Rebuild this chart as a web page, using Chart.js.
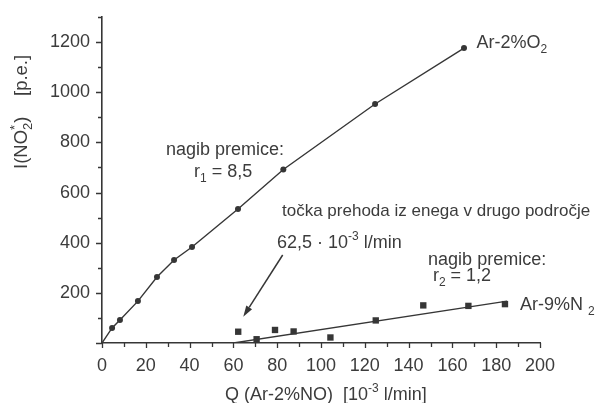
<!DOCTYPE html>
<html><head><meta charset="utf-8">
<script src="https://cdn.jsdelivr.net/npm/chart.js@4.4.1/dist/chart.umd.min.js"></script>
<style>html,body{margin:0;padding:0;background:#fff;}#wrap{width:596px;height:403px;}</style>
</head><body><div id="wrap"><canvas id="c" width="596" height="403"></canvas></div>
<script>
// ---- data ----
const o2Q = [0, 4.6, 8.2, 16.4, 25.1, 32.9, 41.1, 62.1, 82.8, 124.7, 165.3];
const o2I = [0, 60, 92, 167, 263, 331, 383, 534, 692, 953, 1176];
const n2Q = [62.2, 70.6, 79.0, 87.5, 104.3, 125.0, 146.7, 167.3, 184.0];
const n2I = [45, 15, 52, 46, 22, 90, 150, 148, 155];
const n2FitQ = [60, 185];
const n2FitI = [0, 167];
const xTickStep = 10, xLabelStep = 20, xMin = 0, xMax = 200;
const yTickStep = 100, yLabelStep = 200, yMin = 0, yMax = 1300;

const INK = '#363636';
const TXT = '#3c3c3c';
const FONT = '"Liberation Sans", Arial, Helvetica, sans-serif';

function pts(xs, ys){ return xs.map((x,i)=>({x:x, y:ys[i]})); }

function segWidth(ctx, s, size){
  const small = Math.round(size*0.68);
  if (s[1] === 'stack'){ ctx.font = small+'px '+FONT; return Math.max(ctx.measureText(s[0]).width, ctx.measureText(s[2]).width); }
  ctx.font = (s[1] ? small : size)+'px '+FONT;
  return ctx.measureText(s[0]).width;
}
function drawRich(ctx, x, y, segs, size, align){
  let total = 0; segs.forEach(s=>{ total += segWidth(ctx, s, size); });
  let cx = align === 'center' ? x - total/2 : (align === 'right' ? x - total : x);
  ctx.textAlign = 'left'; ctx.textBaseline = 'alphabetic';
  const small = Math.round(size*0.68);
  segs.forEach(s=>{
    const w = segWidth(ctx, s, size);
    if (s[1] === 'stack'){
      ctx.font = small+'px '+FONT;
      ctx.fillText(s[0], cx, y - size*0.45);
      ctx.fillText(s[2], cx, y + size*0.28);
    } else if (s[1] === 'sub'){
      ctx.font = small+'px '+FONT; ctx.fillText(s[0], cx, y + size*0.28);
    } else if (s[1] === 'sup'){
      ctx.font = small+'px '+FONT; ctx.fillText(s[0], cx, y - size*0.42);
    } else {
      ctx.font = size+'px '+FONT; ctx.fillText(s[0], cx, y);
    }
    cx += w;
  });
}

const decor = {
  id: 'decor',
  afterDraw(chart){
    const ctx = chart.ctx, xs = chart.scales.x, ys = chart.scales.y, ca = chart.chartArea;
    ctx.save();
    ctx.strokeStyle = INK; ctx.fillStyle = TXT; ctx.lineWidth = 1.3;
    // tick marks
    ctx.beginPath();
    xs.ticks.forEach(t=>{
      const px = Math.round(xs.getPixelForValue(t.value)) + 0.5;
      const len = (t.value % xLabelStep === 0) ? 5 : 4;
      ctx.moveTo(px, ca.bottom); ctx.lineTo(px, ca.bottom + len);
    });
    ys.ticks.forEach(t=>{
      const py = Math.round(ys.getPixelForValue(t.value)) + 0.5;
      const len = (t.value % yLabelStep === 0) ? 6 : 4;
      ctx.moveTo(ca.left - len, py); ctx.lineTo(ca.left, py);
    });
    ctx.stroke();

    const P = (q, i) => [xs.getPixelForValue(q), ys.getPixelForValue(i)];
    // annotations (data coordinates)
    const notes = [
      {q:171, i:1176, a:'left', s:18, segs:[['Ar-2%O'],['2','sub']]},
      {q:56.2, i:750, a:'center', s:18, segs:[['nagib premice:']]},
      {q:55.3, i:662, a:'center', s:18, segs:[['r'],['1','sub'],[' = 8,5']]},
      {q:82.2, i:506, a:'left', s:17, segs:[['točka prehoda iz enega v drugo področje']]},
      {q:79.9, i:379, a:'left', s:18, segs:[['62,5 · 10'],['-3','sup'],[' l/min']]},
      {q:148.9, i:310, a:'left', s:18, segs:[['nagib premice:']]},
      {q:151.1, i:246, a:'left', s:18, segs:[['r'],['2','sub'],[' = 1,2']]},
      {q:190.9, i:132, a:'left', s:18, segs:[['Ar-9%N '],['2','sub']]}
    ];
    notes.forEach(n=>{ const p = P(n.q, n.i); drawRich(ctx, p[0], p[1], n.segs, n.s, n.a); });

    // arrow
    ctx.fillStyle = INK;
    const a0 = P(82.5, 351), a1 = P(64.5, 105);
    const ang = Math.atan2(a1[1]-a0[1], a1[0]-a0[0]);
    const hl = 11, hw = 3.4;
    const bx = a1[0] - hl*Math.cos(ang), by = a1[1] - hl*Math.sin(ang);
    ctx.lineWidth = 1.5;
    ctx.beginPath(); ctx.moveTo(a0[0], a0[1]); ctx.lineTo(bx, by); ctx.stroke();
    ctx.beginPath();
    ctx.moveTo(a1[0], a1[1]);
    ctx.lineTo(bx + hw*Math.sin(ang), by - hw*Math.cos(ang));
    ctx.lineTo(bx - hw*Math.sin(ang), by + hw*Math.cos(ang));
    ctx.closePath(); ctx.fill();

    ctx.fillStyle = TXT;
    // x axis title
    drawRich(ctx, ca.left + 123, ca.bottom + 57,
      [['Q (Ar-2%NO)  [10'],['-3','sup'],[' l/min]']], 18, 'left');
    // y axis title
    ctx.save();
    ctx.translate(27, 169); ctx.rotate(-Math.PI/2);
    drawRich(ctx, 0, 0, [['I(NO'],['*','stack','2'],[')    [p.e.]']], 18.5, 'left');
    ctx.restore();
    ctx.restore();
  }
};

new Chart(document.getElementById('c'), {
  type: 'scatter',
  data: {
    datasets: [
      { label: 'Ar-2%O2', data: pts(o2Q, o2I), showLine: true,
        borderColor: INK, borderWidth: 1.4, backgroundColor: INK,
        pointRadius: ctx => ctx.dataIndex === 0 ? 0 : 3, pointBorderWidth: 0,
        pointStyle: 'circle', order: 1 },
      { label: 'Ar-9%N2', data: pts(n2Q, n2I), showLine: false,
        borderColor: INK, backgroundColor: INK, pointStyle: 'rect',
        pointRadius: 4.5, pointBorderWidth: 0, order: 1 },
      { label: 'fit', data: pts(n2FitQ, n2FitI), showLine: true,
        borderColor: INK, borderWidth: 1.4, pointRadius: 0, order: 2 }
    ]
  },
  options: {
    responsive: false, animation: false, devicePixelRatio: 1,
    layout: { padding: { top: 17, right: 56, left: 0, bottom: 0 } },
    plugins: { legend: { display: false }, tooltip: { enabled: false } },
    scales: {
      x: {
        type: 'linear', min: xMin, max: xMax,
        grid: { display: false, drawTicks: false },
        border: { display: true, color: INK, width: 1.6 },
        ticks: { stepSize: xTickStep, autoSkip: false, maxRotation: 0, minRotation: 0,
          padding: 12, color: TXT, font: { size: 18, family: FONT },
          callback: v => (v % xLabelStep === 0 ? String(v) : '') },
        afterFit: s => { s.height = 60; s.paddingLeft = 0; s.paddingRight = 0; }
      },
      y: {
        type: 'linear', min: yMin, max: yMax,
        grid: { display: false, drawTicks: false },
        border: { display: true, color: INK, width: 1.6 },
        ticks: { stepSize: yTickStep, autoSkip: false, padding: 12, color: TXT,
          font: { size: 18, family: FONT },
          callback: v => (v % yLabelStep === 0 && v > 0 && v <= 1200 ? String(v) : '') },
        afterFit: s => { s.width = 102; s.paddingTop = 0; s.paddingBottom = 0; }
      }
    }
  },
  plugins: [decor]
});
</script>
</body></html>
